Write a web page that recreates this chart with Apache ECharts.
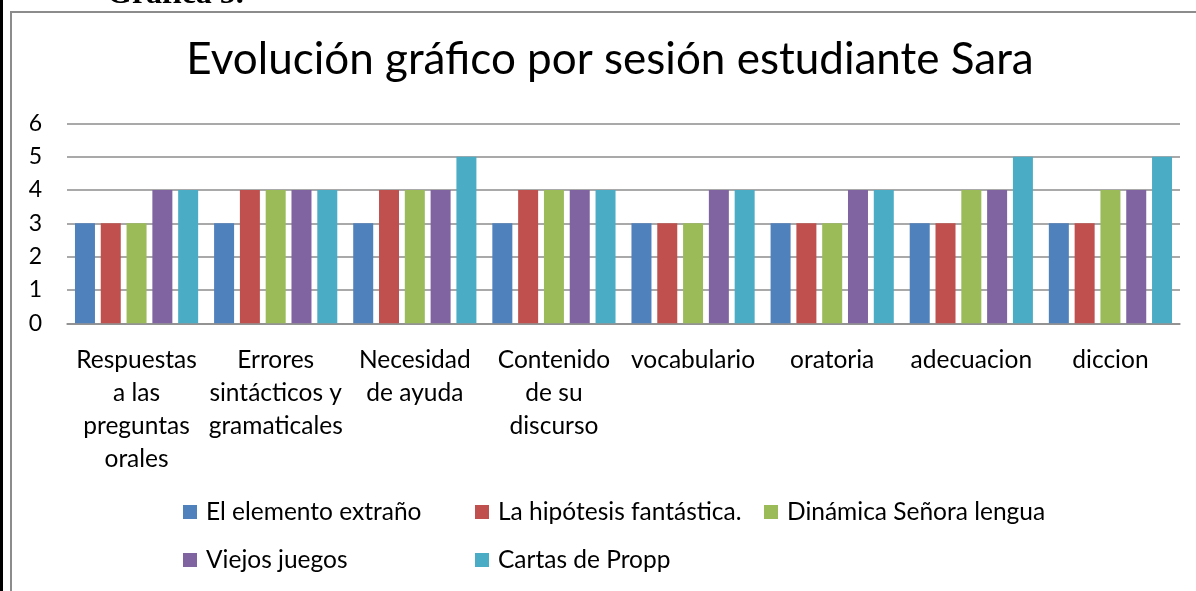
<!DOCTYPE html>
<html>
<head>
<meta charset="utf-8">
<script src="https://cdn.jsdelivr.net/npm/echarts@6/dist/echarts.min.js"></script>
<style>
html,body{margin:0;padding:0;background:#fff;}
#chart{width:1196px;height:591px;}
</style>
</head>
<body>
<div id="chart"></div>
<script>
const categories = [
  'Respuestas\na las\npreguntas\norales',
  'Errores\nsintácticos y\ngramaticales',
  'Necesidad\nde ayuda',
  'Contenido\nde su\ndiscurso',
  'vocabulario',
  'oratoria',
  'adecuacion',
  'diccion'
];
const seriesNames = ['El elemento extraño', 'La hipótesis fantástica.', 'Dinámica Señora lengua', 'Viejos juegos', 'Cartas de Propp'];
const elementoExtrano   = [3, 3, 3, 3, 3, 3, 3, 3];
const hipotesisFantast  = [3, 4, 4, 4, 3, 3, 3, 3];
const dinamicaSenora    = [3, 4, 4, 4, 3, 3, 4, 4];
const viejosJuegos      = [4, 4, 4, 4, 4, 4, 4, 4];
const cartasPropp       = [4, 4, 5, 4, 4, 4, 5, 5];
const yTicks = [0, 1, 2, 3, 4, 5, 6];
const titleText = 'Evolución gráfico por sesión estudiante Sara';
const captionText = 'Gráfica 5.';

const colors = ['#4F81BD', '#C0504D', '#9BBB59', '#8064A2', '#4BACC6'];
const values = [elementoExtrano, hipotesisFantast, dinamicaSenora, viejosJuegos, cartasPropp];
const FONT = 'Lato, "Open Sans", sans-serif';

const legendPos = [
  {left: 183, top: 498}, {left: 475, top: 498}, {left: 764, top: 498},
  {left: 183, top: 546}, {left: 475, top: 546}
];

const chart = echarts.init(document.getElementById('chart'));
chart.setOption({
  animation: false,
  color: colors,
  title: {
    text: titleText,
    left: 610,
    top: 38,
    textAlign: 'center',
    padding: 0,
    textStyle: {fontFamily: FONT, fontSize: 44, fontWeight: 'normal', color: '#000'}
  },
  legend: seriesNames.map((n, i) => ({
    data: [n],
    left: legendPos[i].left,
    top: legendPos[i].top,
    padding: 0,
    icon: 'rect',
    itemWidth: 14,
    itemHeight: 14,
    textStyle: {fontFamily: FONT, fontSize: 24.5, color: '#000', lineHeight: 28, padding: [0, 0, 0, 4]}
  })),
  grid: {left: 67, right: 16, top: 123.3, bottom: 267.7, containLabel: false},
  xAxis: {
    type: 'category',
    data: categories,
    axisLine: {show: true, lineStyle: {color: '#8c8c8c', width: 1.5}},
    axisTick: {show: false},
    axisLabel: {
      interval: 0,
      margin: 20,
      fontFamily: FONT,
      fontSize: 24.5,
      lineHeight: 33,
      color: '#000',
      align: 'center'
    }
  },
  yAxis: {
    type: 'value',
    min: yTicks[0],
    max: yTicks[yTicks.length - 1],
    interval: 1,
    axisLine: {show: false},
    axisTick: {show: false},
    splitLine: {lineStyle: {color: '#8c8c8c', width: 1.5}},
    axisLabel: {margin: 25, fontFamily: FONT, fontSize: 23, color: '#000'}
  },
  graphic: [
    {type: 'rect', shape: {x: 0, y: 0, width: 3, height: 591}, style: {fill: '#000'}, silent: true},
    {type: 'rect', shape: {x: 11, y: 12, width: 1200, height: 600}, style: {fill: 'none', stroke: '#8c8c8c', lineWidth: 2}, silent: true, z: -1},
    {type: 'text', x: 107, y: -5, style: {text: captionText, font: 'bold 32px "Liberation Serif", "Times New Roman", serif', fill: '#000', verticalAlign: 'middle', align: 'left'}, silent: true}
  ],
  series: seriesNames.map((n, i) => ({
    name: n,
    type: 'bar',
    data: values[i],
    barWidth: 20,
    barGap: '29%',
    itemStyle: {color: colors[i]}
  }))
});
</script>
</body>
</html>
